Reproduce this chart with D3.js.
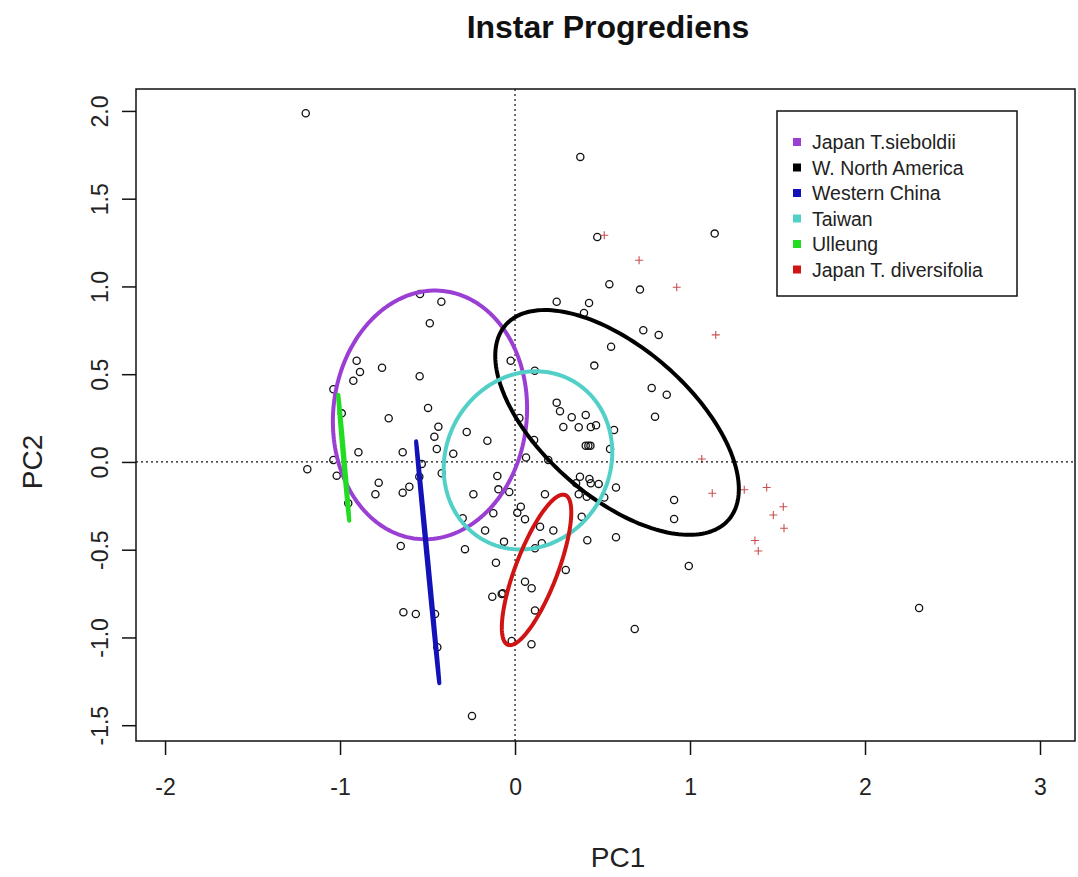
<!DOCTYPE html>
<html>
<head>
<meta charset="utf-8">
<script src="https://cdn.jsdelivr.net/npm/d3@7/dist/d3.min.js"></script>
<style>
    body { margin: 0; background: #fff; }
    text { font-family: "Liberation Sans", Arial, sans-serif; fill: #222; }
</style>
</head>
<body>
<div id="chart"></div>
<script>
// PCA scores, unlabelled samples (open circles)
var pc1Other = [-1.196, -0.421, -0.543, -0.487, -0.905, -0.886, -0.924, -0.760, -0.545, -1.038,
    -0.025, 0.113, -0.497, -0.722, -0.438, -0.461, -0.447, -0.353, -0.276, -0.158,
    0.025, 0.109, -0.895, -0.642, -1.187, -1.038, -1.019, -0.990, 0.063, -0.533,
    -0.547, -0.779, -0.798, -0.642, -0.604, -0.238, -0.101, -0.095, -0.033, -0.419,
    -0.953, -0.299, -0.171, -0.124, 0.033, 0.013, 0.057, -0.653, -0.286, -0.063,
    -0.109, 0.114, 0.057, 0.095, -0.130, -0.076, 0.114, -0.638, -0.567, -0.457,
    -0.444, -0.019, 0.094, -0.246, 0.373, 0.470, 1.141, 0.539, 0.714, 0.238,
    0.423, 0.394, 0.733, 0.821, 0.549, 0.453, 0.781, 0.867, 0.800, 0.238,
    0.257, 0.324, 0.404, 0.276, 0.364, 0.433, 0.463, 0.566, 0.404, 0.419,
    0.431, 0.543, 0.190, 0.371, 0.425, 0.433, 0.478, 0.349, 0.577, 0.171,
    0.364, 0.410, 0.510, 0.909, 0.909, 0.381, 0.219, 0.153, 0.413, 0.577,
    0.290, -0.070, 0.993, 0.684, 2.309, 0.143];
var pc2Other = [1.987, 0.913, 0.957, 0.790, 0.577, 0.513, 0.463, 0.537, 0.488, 0.414,
    0.577, 0.520, 0.308, 0.249, 0.201, 0.144, 0.074, 0.047, 0.171, 0.121,
    0.251, 0.125, 0.055, 0.055, -0.042, 0.011, -0.078, 0.277, 0.025, -0.011,
    -0.084, -0.118, -0.184, -0.175, -0.141, -0.184, -0.080, -0.156, -0.171, -0.064,
    -0.235, -0.321, -0.391, -0.292, -0.255, -0.289, -0.326, -0.479, -0.497, -0.454,
    -0.574, -0.492, -0.682, -0.720, -0.768, -0.752, -0.846, -0.856, -0.866, -0.866,
    -1.056, -1.020, -1.039, -1.447, 1.738, 1.282, 1.301, 1.013, 0.982, 0.913,
    0.906, 0.849, 0.750, 0.724, 0.657, 0.549, 0.422, 0.383, 0.258, 0.338,
    0.289, 0.255, 0.268, 0.199, 0.198, 0.199, 0.209, 0.182, 0.093, 0.093,
    0.093, 0.074, 0.011, -0.084, -0.097, -0.121, -0.125, -0.121, -0.146, -0.184,
    -0.184, -0.198, -0.203, -0.217, -0.325, -0.312, -0.391, -0.463, -0.446, -0.429,
    -0.615, -0.748, -0.593, -0.952, -0.832, -0.369];

// Japan T. diversifolia samples (red crosses)
var pc1Divers = [0.510, 0.709, 0.924, 1.147, 1.067, 1.127, 1.310, 1.438, 1.533, 1.476, 1.537, 1.371, 1.390];
var pc2Divers = [1.292, 1.149, 0.995, 0.724, 0.017, -0.178, -0.158, -0.146, -0.255, -0.302, -0.378, -0.448, -0.507];

// group ellipses: centre, semi axes, angle of major axis (deg)
var groups = ["Japan T.sieboldii", "W. North America", "Western China", "Taiwan", "Ulleung", "Japan T. diversifolia"];
var groupColors = ["#9b3fd4", "#000000", "#1212b8", "#52d0c8", "#22dc22", "#d01414"];
var ellCx = [-0.486, 0.583, -0.499, 0.074, -0.979, 0.123];
var ellCy = [0.268, 0.225, -0.572, 0.009, 0.024, -0.615];
var ellA = [0.71, 0.845, 0.692, 0.52, 0.36, 0.457];
var ellB = [0.553, 0.425, 0.004, 0.468, 0.004, 0.12];
var ellAngle = [84, -41, 95.5, 60, 95, 69];

var xTicks = [-2, -1, 0, 1, 2, 3];
var yTicks = [-1.5, -1.0, -0.5, 0.0, 0.5, 1.0, 1.5, 2.0];

(function(d3) {

    "use strict";

    var width = 1078, height = 877;
    var plot = { left: 136, right: 1075, top: 89, bottom: 741 };

    var svg = d3.select("#chart").append("svg")
        .attr("width", width)
        .attr("height", height);

    var x = d3.scaleLinear().domain([-2.166, 3.2]).range([plot.left, plot.right]);
    var y = d3.scaleLinear().domain([-1.59, 2.125]).range([plot.bottom, plot.top]);

    /**
     * Outline points of an ellipse in data space
     * @param  {Number} i group index
     * @return {Array}    [x, y] pairs
     */
    function ellipsePoints(i) {
        var th = ellAngle[i] * Math.PI / 180;
        return d3.range(0, 2 * Math.PI + 0.01, Math.PI / 90).map(function(t) {
            var ex = ellCx[i] + ellA[i] * Math.cos(th) * Math.cos(t) - ellB[i] * Math.sin(th) * Math.sin(t);
            var ey = ellCy[i] + ellA[i] * Math.sin(th) * Math.cos(t) + ellB[i] * Math.cos(th) * Math.sin(t);
            return [ex, ey];
        });
    }

    /**
     * Plain hyphen minus like R labels
     * @param  {Function} f d3 formatter
     * @return {Function}   formatter
     */
    function hyphen(f) {
        return function(v) { return f(v).replace("\u2212", "-"); };
    }

    // title
    svg.append("text")
        .attr("x", 608)
        .attr("y", 38)
        .attr("text-anchor", "middle")
        .style("font-size", "32px")
        .style("font-weight", "bold")
        .style("fill", "#111")
        .text("Instar Progrediens");

    svg.append("clipPath").attr("id", "plotclip")
        .append("rect")
        .attr("x", plot.left).attr("y", plot.top)
        .attr("width", plot.right - plot.left).attr("height", plot.bottom - plot.top);

    var g = svg.append("g").attr("clip-path", "url(#plotclip)");

    // open circles
    g.selectAll(".pt")
        .data(d3.range(pc1Other.length))
        .enter()
        .append("circle")
        .attr("class", "pt")
        .attr("cx", function(i) { return x(pc1Other[i]); })
        .attr("cy", function(i) { return y(pc2Other[i]); })
        .attr("r", 3.6)
        .style("fill", "none")
        .style("stroke", "#111")
        .style("stroke-width", 1.3);

    // red crosses
    g.selectAll(".cross")
        .data(d3.range(pc1Divers.length))
        .enter()
        .append("path")
        .attr("class", "cross")
        .attr("d", function(i) {
            var cx = x(pc1Divers[i]), cy = y(pc2Divers[i]);
            return "M" + (cx - 4) + "," + cy + "H" + (cx + 4) + "M" + cx + "," + (cy - 4) + "V" + (cy + 4);
        })
        .style("stroke", "#c85050")
        .style("stroke-width", 1.1);

    // dotted zero lines
    g.append("line")
        .attr("x1", x(0)).attr("x2", x(0))
        .attr("y1", plot.top).attr("y2", plot.bottom)
        .style("stroke", "#111").style("stroke-width", 1.2)
        .style("stroke-dasharray", "2,3");
    g.append("line")
        .attr("x1", plot.left).attr("x2", plot.right)
        .attr("y1", y(0)).attr("y2", y(0))
        .style("stroke", "#111").style("stroke-width", 1.2)
        .style("stroke-dasharray", "2,3");

    // ellipses
    var line = d3.line()
        .x(function(d) { return x(d[0]); })
        .y(function(d) { return y(d[1]); });

    g.selectAll(".ell")
        .data(d3.range(groups.length))
        .enter()
        .append("path")
        .attr("class", "ell")
        .attr("d", function(i) { return line(ellipsePoints(i)) + "Z"; })
        .style("fill", "none")
        .style("stroke", function(i) { return groupColors[i]; })
        .style("stroke-width", 4)
        .style("stroke-linejoin", "round");

    // frame
    svg.append("rect")
        .attr("x", plot.left).attr("y", plot.top)
        .attr("width", plot.right - plot.left).attr("height", plot.bottom - plot.top)
        .style("fill", "none")
        .style("stroke", "#111")
        .style("stroke-width", 1.5);

    // axes
    var xAxis = d3.axisBottom(x).tickValues(xTicks).tickSize(14).tickPadding(24)
        .tickFormat(hyphen(d3.format("d")));
    var xg = svg.append("g")
        .attr("transform", "translate(0," + plot.bottom + ")")
        .call(xAxis);
    xg.select(".domain").remove();
    xg.selectAll("line").style("stroke", "#111").style("stroke-width", 1.5);
    xg.selectAll("text")
        .style("font-size", "23px")
        .style("font-family", "Liberation Sans, Arial, sans-serif")
        .style("fill", "#222");

    var yAxis = d3.axisLeft(y).tickValues(yTicks).tickSize(14).tickPadding(0)
        .tickFormat(hyphen(d3.format(".1f")));
    var yg = svg.append("g")
        .attr("transform", "translate(" + plot.left + ",0)")
        .call(yAxis);
    yg.select(".domain").remove();
    yg.selectAll("line").style("stroke", "#111").style("stroke-width", 1.5);
    yg.selectAll("text")
        .attr("x", 0).attr("dy", 0)
        .attr("text-anchor", "middle")
        .attr("transform", "translate(-28,0) rotate(-90)")
        .style("font-size", "23px")
        .style("font-family", "Liberation Sans, Arial, sans-serif")
        .style("fill", "#222");

    // axis labels
    svg.append("text")
        .attr("x", 618).attr("y", 867)
        .attr("text-anchor", "middle")
        .style("font-size", "28px")
        .text("PC1");
    svg.append("text")
        .attr("transform", "translate(42," + y(0) + ") rotate(-90)")
        .attr("text-anchor", "middle")
        .style("font-size", "28px")
        .text("PC2");

    // legend
    var leg = svg.append("g").attr("transform", "translate(777,111)");
    leg.append("rect")
        .attr("width", 240).attr("height", 185)
        .style("fill", "#fff")
        .style("stroke", "#111")
        .style("stroke-width", 1.5);
    var rows = leg.selectAll(".row")
        .data(groups)
        .enter()
        .append("g")
        .attr("class", "row")
        .attr("transform", function(d, i) { return "translate(0," + (31 + i * 25.5) + ")"; });
    rows.append("rect")
        .attr("x", 16).attr("y", -4)
        .attr("width", 8).attr("height", 8)
        .style("fill", function(d, i) { return groupColors[i]; });
    rows.append("text")
        .attr("x", 35).attr("y", 7)
        .style("font-size", "19.5px")
        .text(function(d) { return d; });

})(d3);
</script>
</body>
</html>
